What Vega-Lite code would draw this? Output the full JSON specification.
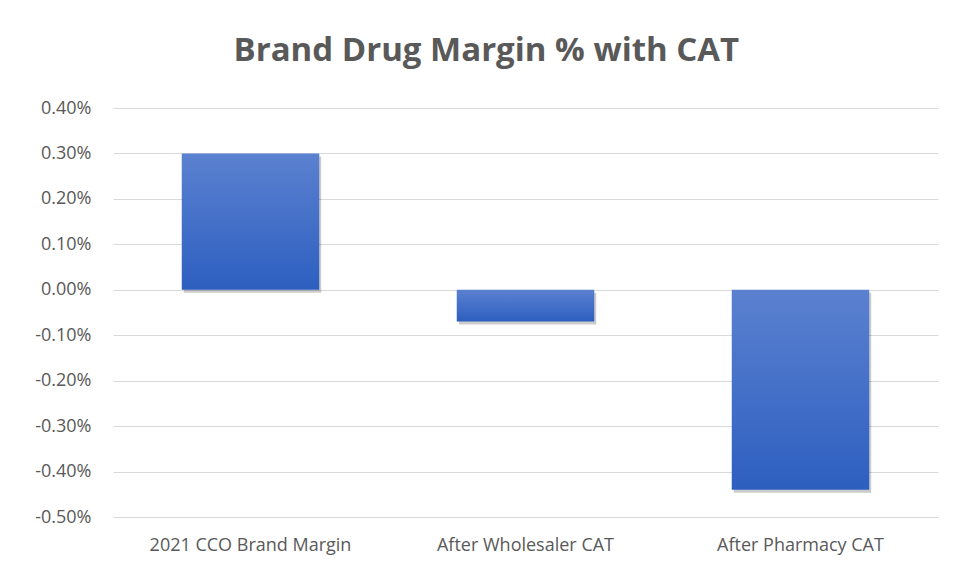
{
  "$schema": "https://vega.github.io/schema/vega-lite/v6.json",
  "autosize": "none",
  "width": 825,
  "height": 409,
  "padding": {"left": 113, "top": 108, "right": 17, "bottom": 60},
  "background": "white",
  "title": {
    "text": "Brand Drug Margin % with CAT",
    "font": "Open Sans",
    "fontSize": 33,
    "fontWeight": "bold",
    "color": "#595959",
    "anchor": "middle",
    "frame": "bounds",
    "offset": 31
  },
  "data": {
    "values": [
      {"category": "2021 CCO Brand Margin", "margin": 0.0030},
      {"category": "After Wholesaler CAT", "margin": -0.0007},
      {"category": "After Pharmacy CAT", "margin": -0.0044}
    ]
  },
  "encoding": {
    "x": {
      "field": "category",
      "type": "nominal",
      "sort": null,
      "scale": {"paddingInner": 0.5, "paddingOuter": 0.25},
      "axis": {
        "title": null,
        "labelAngle": 0,
        "labelLimit": 400,
        "domain": false,
        "ticks": false,
        "labelPadding": 19,
        "labelFont": "Open Sans",
        "labelFontSize": 18,
        "labelColor": "#595959"
      }
    },
    "y": {
      "field": "margin",
      "type": "quantitative",
      "scale": {"domain": [-0.005, 0.004], "nice": false},
      "axis": {
        "title": null,
        "values": [-0.005, -0.004, -0.003, -0.002, -0.001, 0, 0.001, 0.002, 0.003, 0.004],
        "labelExpr": "replace(format(datum.value, '.2%'), '\u2212', '-')",
        "domain": false,
        "ticks": false,
        "labelPadding": 22,
        "labelFont": "Open Sans",
        "labelFontSize": 18,
        "labelColor": "#595959",
        "gridColor": "#d9d9d9",
        "gridWidth": 1
      }
    }
  },
  "layer": [
    {
      "mark": {"type": "bar", "color": "#000000", "opacity": 0.2, "xOffset": 2, "yOffset": 3}
    },
    {
      "mark": {
        "type": "bar",
        "color": {
          "gradient": "linear",
          "x1": 0, "y1": 0, "x2": 0, "y2": 1,
          "stops": [
            {"offset": 0, "color": "#5b81d0"},
            {"offset": 1, "color": "#2d5fc0"}
          ]
        }
      }
    }
  ],
  "config": {"view": {"stroke": null}}
}
